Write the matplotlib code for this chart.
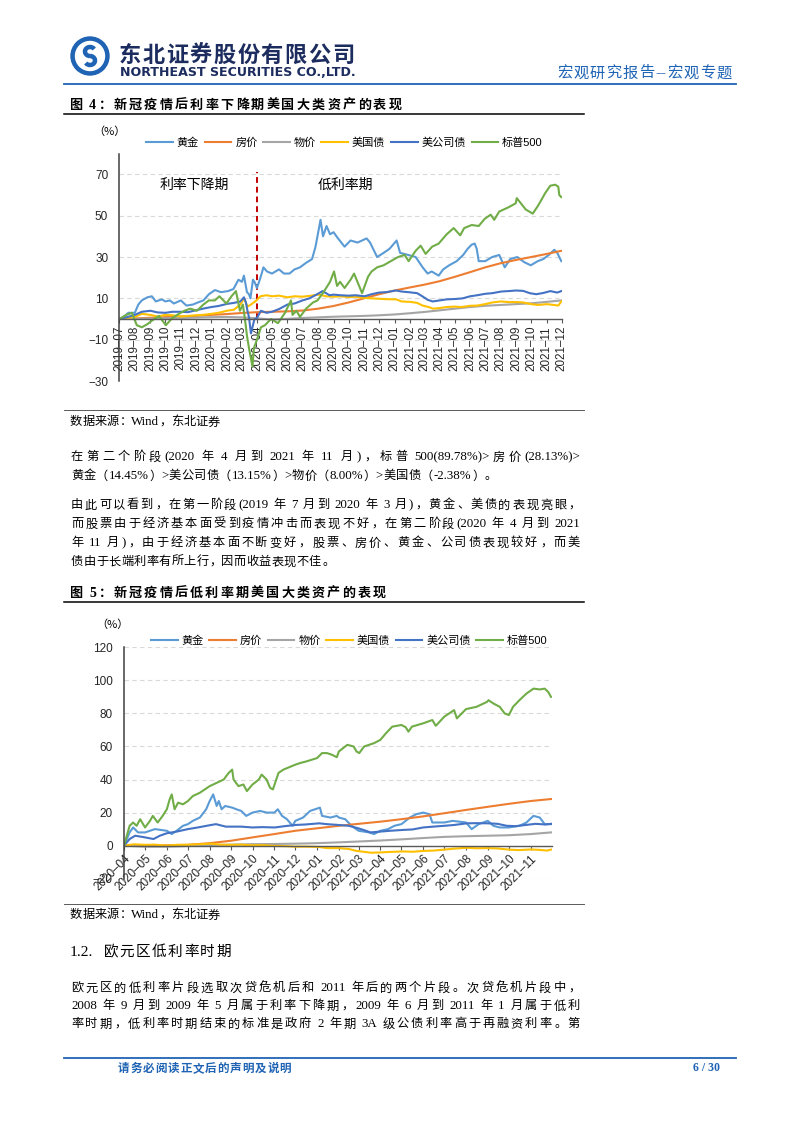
import re
import pandas as pd
import matplotlib
matplotlib.use('Agg')
import matplotlib.pyplot as plt
import matplotlib.dates as mdates
from matplotlib.patches import Circle, Arc

CJK = 'Noto Sans CJK SC'
plt.rcParams['font.family'] = ['Liberation Sans', CJK]

# ---------------- data ----------------
series_names = ['黄金', '房价', '物价', '美国债', '美公司债', '标普500']
series_colors = ['#5B9BD5', '#ED7D31', '#A5A5A5', '#FFC000', '#4472C4', '#70AD47']

# Figure 4: 2019-07 .. 2021-11, cumulative return (%)
gold1_dates = ['2019-07-01', '2019-07-10', '2019-07-19', '2019-08-01', '2019-08-08', '2019-08-15', '2019-08-26',
               '2019-09-04', '2019-09-12', '2019-09-24', '2019-10-01', '2019-10-10', '2019-10-18', '2019-11-01',
               '2019-11-12', '2019-11-25', '2019-12-05', '2019-12-16', '2019-12-27', '2020-01-08', '2020-01-20',
               '2020-02-03', '2020-02-14', '2020-02-24', '2020-03-02', '2020-03-06', '2020-03-12', '2020-03-16',
               '2020-03-19', '2020-03-24', '2020-03-27', '2020-04-01', '2020-04-08', '2020-04-14', '2020-04-21',
               '2020-05-01', '2020-05-15', '2020-05-25', '2020-06-05', '2020-06-15', '2020-06-26', '2020-07-07',
               '2020-07-20', '2020-07-27', '2020-08-06', '2020-08-11', '2020-08-18', '2020-08-25', '2020-09-01',
               '2020-09-10', '2020-09-23', '2020-10-05', '2020-10-19', '2020-11-06', '2020-11-13', '2020-11-27',
               '2020-12-10', '2020-12-22', '2021-01-05', '2021-01-12', '2021-01-28', '2021-02-12', '2021-02-26',
               '2021-03-08', '2021-03-16', '2021-03-30', '2021-04-08', '2021-04-20', '2021-05-05', '2021-05-18',
               '2021-05-27', '2021-06-04', '2021-06-10', '2021-06-14', '2021-06-18', '2021-07-01', '2021-07-15',
               '2021-07-29', '2021-08-09', '2021-08-20', '2021-09-03', '2021-09-17', '2021-09-30', '2021-10-14',
               '2021-10-25', '2021-11-05', '2021-11-16', '2021-11-22', '2021-11-30']
gold1_vals = [0, 1, 3, 3, 7, 9, 10.5, 11, 8.5, 9.5, 8.5, 9, 7.5, 9, 6.5, 7, 8, 9, 12, 14, 13, 13.5, 14.5, 19,
              18, 21, 13, 12, 10, 19, 18, 15, 20, 25, 23, 22, 24, 22, 22, 24, 25, 27, 29, 35, 48, 40, 45, 41,
              42, 39, 35, 38, 37, 39, 37, 30, 32, 34, 38, 32, 31, 30, 25, 22, 23, 21, 24, 26, 28, 31, 34, 36,
              36.5, 34, 28, 28, 30, 31, 25, 29, 30, 27.5, 26, 28, 29, 31, 33.5, 32, 28]

sp1_dates = ['2019-07-01', '2019-07-15', '2019-07-26', '2019-08-05', '2019-08-15', '2019-08-26', '2019-09-03',
             '2019-09-18', '2019-10-02', '2019-10-15', '2019-10-28', '2019-11-08', '2019-11-20', '2019-12-03',
             '2019-12-16', '2019-12-27', '2020-01-08', '2020-01-17', '2020-01-31', '2020-02-10', '2020-02-19',
             '2020-02-27', '2020-03-04', '2020-03-09', '2020-03-12', '2020-03-16', '2020-03-23', '2020-03-26',
             '2020-04-01', '2020-04-09', '2020-04-17', '2020-04-29', '2020-05-13', '2020-05-27', '2020-06-08',
             '2020-06-11', '2020-06-19', '2020-06-26', '2020-07-08', '2020-07-22', '2020-07-31', '2020-08-12',
             '2020-08-25', '2020-09-02', '2020-09-08', '2020-09-14', '2020-09-23', '2020-10-05', '2020-10-12',
             '2020-10-28', '2020-11-09', '2020-11-16', '2020-11-27', '2020-12-10', '2020-12-28', '2021-01-08',
             '2021-01-21', '2021-01-29', '2021-02-12', '2021-02-22', '2021-03-04', '2021-03-17', '2021-03-30',
             '2021-04-15', '2021-04-29', '2021-05-12', '2021-05-20', '2021-06-04', '2021-06-18', '2021-06-30',
             '2021-07-12', '2021-07-19', '2021-07-29', '2021-08-16', '2021-08-31', '2021-09-02', '2021-09-20',
             '2021-10-04', '2021-10-15', '2021-10-29', '2021-11-08', '2021-11-18', '2021-11-24', '2021-11-26',
             '2021-11-30']
sp1_vals = [0, 2, 3, -3, -4, -2.5, -1, 1.5, -3, 0.5, 2.5, 4, 5, 4, 7, 9, 9, 11, 7.5, 11, 13.5, 4, 7, -2, -8,
            -14, -23, -14, -10, -4, -3, 0, -2, 3, 9, 2, 4, 1, 5, 8, 9, 13, 18, 23, 16, 18, 15, 19, 22, 12.5,
            20.5, 23, 25, 26, 28.5, 30, 31, 28, 33, 35.5, 31.5, 35, 36.5, 41, 44, 40.5, 44, 45.5, 45, 48.5,
            50.5, 48, 52, 54, 56, 58.5, 53, 51, 55, 61, 64.5, 65, 64, 60, 59]

# monthly points (month starts 2019-07..2021-11, then 2021-11-30)
house1_vals = [0, 0.3, 0.6, 0.9, 1.2, 1.5, 2, 2.4, 2.9, 3.3, 3.5, 3.7, 4.1, 5, 6.3, 8, 10, 12,
               13.8, 15.3, 16.6, 18.3, 20.4, 22.7, 25, 27, 28.6, 30, 31.5, 33]
cpi1_vals = [0, 0.1, 0.2, 0.4, 0.5, 0.7, 0.9, 1.0, 0.8, 0.3, -0.2, 0.1, 0.5, 0.8, 1.1, 1.3, 1.5, 1.8,
             2.2, 2.8, 3.4, 4.2, 5.0, 5.8, 6.4, 6.8, 7.2, 7.6, 8.3, 9]

tsy1_dates = ['2019-07-01', '2019-07-15', '2019-08-01', '2019-08-15', '2019-09-01', '2019-09-15', '2019-10-01',
              '2019-10-15', '2019-11-01', '2019-11-15', '2019-12-01', '2019-12-15', '2020-01-01', '2020-01-15',
              '2020-02-01', '2020-02-15', '2020-02-28', '2020-03-06', '2020-03-13', '2020-03-20', '2020-03-31',
              '2020-04-08', '2020-04-20', '2020-05-01', '2020-05-15', '2020-06-01', '2020-06-15', '2020-07-01',
              '2020-07-15', '2020-08-03', '2020-08-17', '2020-09-01', '2020-09-15', '2020-10-01', '2020-10-15',
              '2020-11-01', '2020-11-15', '2020-12-01', '2020-12-15', '2021-01-04', '2021-01-15', '2021-02-01',
              '2021-02-15', '2021-02-26', '2021-03-10', '2021-03-19', '2021-04-01', '2021-04-15', '2021-05-01',
              '2021-05-15', '2021-06-01', '2021-06-15', '2021-07-01', '2021-07-15', '2021-08-02', '2021-08-16',
              '2021-09-01', '2021-09-15', '2021-10-01', '2021-10-15', '2021-11-01', '2021-11-15', '2021-11-24',
              '2021-11-30']
tsy1_vals = [0, 0.5, 1, 2.5, 2, 1.2, 2, 1.8, 1.2, 1.5, 1.8, 2, 2.5, 3, 4, 4.5, 7, 10, 6, 7, 9, 11, 11.5, 11,
             11.3, 10.5, 11, 10.8, 11.2, 11.8, 11, 10.8, 11, 10.6, 10.8, 10.2, 10, 9.8, 9.6, 9.5, 8.5, 8.3,
             7.8, 6.5, 5.8, 5, 5.3, 5.8, 6, 5.8, 6.4, 6.5, 7.2, 8, 8.5, 8.2, 8.2, 8, 7.2, 6.8, 7.2, 6.8, 6.5, 8.5]

corp1_dates = ['2019-07-01', '2019-07-15', '2019-08-01', '2019-08-15', '2019-09-01', '2019-09-15', '2019-10-01',
               '2019-10-15', '2019-11-01', '2019-11-15', '2019-12-01', '2019-12-15', '2020-01-01', '2020-01-15',
               '2020-02-01', '2020-02-15', '2020-02-28', '2020-03-06', '2020-03-10', '2020-03-13', '2020-03-16',
               '2020-03-20', '2020-03-24', '2020-03-27', '2020-04-01', '2020-04-09', '2020-04-20', '2020-05-01',
               '2020-05-15', '2020-06-01', '2020-06-15', '2020-07-01', '2020-07-15', '2020-08-03', '2020-08-10',
               '2020-08-24', '2020-09-01', '2020-09-15', '2020-10-01', '2020-10-15', '2020-11-02', '2020-11-16',
               '2020-12-01', '2020-12-15', '2021-01-04', '2021-01-15', '2021-02-01', '2021-02-15', '2021-02-26',
               '2021-03-08', '2021-03-18', '2021-04-01', '2021-04-15', '2021-05-03', '2021-05-17', '2021-06-01',
               '2021-06-15', '2021-07-01', '2021-07-15', '2021-08-02', '2021-08-16', '2021-09-01', '2021-09-15',
               '2021-09-28', '2021-10-11', '2021-10-25', '2021-11-08', '2021-11-22', '2021-11-30']
corp1_vals = [0, 0.8, 2, 3.5, 4, 3.2, 3, 3.5, 3.5, 3.3, 4.2, 5, 5.8, 6.3, 7.3, 7.8, 8.5, 10.5, 8, 4, 1, -7, -3,
              0, 0.5, 4, 3, 3.5, 4.8, 7, 7.5, 9, 10, 12.5, 13.5, 11.5, 11.8, 11.5, 11.3, 11.5, 11, 12, 12.8,
              13, 13.8, 13.3, 12.9, 12.5, 10.9, 9.3, 8.5, 9, 9.5, 9.7, 10, 11, 11.5, 12.2, 12.5, 13.3, 13.5,
              13.8, 13.6, 12.5, 12, 12.6, 13.5, 12.8, 13.5]

# Figure 5: 2020-04 .. 2021-11, cumulative return (%)
gold2_dates = ['2020-04-01', '2020-04-09', '2020-04-14', '2020-04-21', '2020-05-01', '2020-05-08', '2020-05-15',
               '2020-06-01', '2020-06-08', '2020-06-15', '2020-06-24', '2020-07-01', '2020-07-08', '2020-07-18',
               '2020-07-27', '2020-08-01', '2020-08-06', '2020-08-11', '2020-08-14', '2020-08-18', '2020-08-23',
               '2020-09-02', '2020-09-08', '2020-09-15', '2020-09-22', '2020-10-01', '2020-10-12', '2020-10-21',
               '2020-11-01', '2020-11-06', '2020-11-12', '2020-11-19', '2020-11-27', '2020-12-01', '2020-12-12',
               '2020-12-22', '2021-01-05', '2021-01-08', '2021-01-20', '2021-01-29', '2021-02-01', '2021-02-10',
               '2021-02-19', '2021-03-01', '2021-03-16', '2021-03-23', '2021-04-01', '2021-04-12', '2021-04-21',
               '2021-05-01', '2021-05-13', '2021-05-22', '2021-06-01', '2021-06-10', '2021-06-14', '2021-07-01',
               '2021-07-13', '2021-08-01', '2021-08-09', '2021-08-19', '2021-09-01', '2021-09-09', '2021-09-18',
               '2021-10-01', '2021-10-16', '2021-10-26', '2021-11-05', '2021-11-14', '2021-11-21', '2021-11-30']
gold2_vals = [0, 8, 11, 8, 8, 9, 10, 9, 7, 9, 12, 13, 15, 17, 22, 27, 31, 24, 27, 22, 24, 23, 22, 21, 18, 20,
              21, 20, 20, 22, 18, 16, 12, 15, 17, 21, 23, 18, 17, 18, 17, 16, 12, 9, 8, 7, 9, 10, 12, 13, 17,
              19, 20, 19, 14, 14, 15, 14, 10, 13, 15, 12, 11, 11, 12, 14, 18, 17, 13, 13]

sp2_dates = ['2020-04-01', '2020-04-09', '2020-04-14', '2020-04-19', '2020-04-24', '2020-05-01', '2020-05-08',
             '2020-05-12', '2020-05-19', '2020-05-26', '2020-06-01', '2020-06-05', '2020-06-08', '2020-06-12',
             '2020-06-17', '2020-06-24', '2020-07-01', '2020-07-08', '2020-07-18', '2020-08-01', '2020-08-11',
             '2020-08-21', '2020-08-28', '2020-09-02', '2020-09-04', '2020-09-11', '2020-09-18', '2020-09-23',
             '2020-10-01', '2020-10-10', '2020-10-14', '2020-10-21', '2020-10-26', '2020-10-30', '2020-11-07',
             '2020-11-14', '2020-12-01', '2020-12-08', '2020-12-17', '2021-01-01', '2021-01-08', '2021-01-15',
             '2021-01-22', '2021-01-29', '2021-02-01', '2021-02-13', '2021-02-22', '2021-02-26', '2021-03-02',
             '2021-03-09', '2021-03-16', '2021-03-23', '2021-04-01', '2021-04-09', '2021-04-18', '2021-05-01',
             '2021-05-07', '2021-05-11', '2021-05-16', '2021-06-01', '2021-06-14', '2021-06-19', '2021-07-01',
             '2021-07-08', '2021-07-15', '2021-07-19', '2021-08-01', '2021-08-16', '2021-08-31', '2021-09-02',
             '2021-09-09', '2021-09-18', '2021-09-25', '2021-10-01', '2021-10-07', '2021-10-16', '2021-10-26',
             '2021-11-05', '2021-11-14', '2021-11-21', '2021-11-26', '2021-11-30']
sp2_vals = [0, 12, 14, 12, 16, 11, 15, 18, 14, 18, 22, 28, 31, 22, 26, 25, 27, 30, 32, 36, 38, 40, 44, 46, 40,
            36, 37, 33, 37, 40, 43, 40, 35, 34, 44, 46, 49, 50, 51, 53, 56, 56, 55, 53.5, 57, 61, 60, 57, 56,
            60, 61, 62, 64, 68, 72, 73, 71.7, 69, 72, 74, 76, 72.5, 78, 80, 82, 77, 82.6, 84, 87, 88, 86, 84,
            80, 79, 84, 88, 92, 95, 94.5, 95, 93, 90]

# monthly points (month starts 2020-04..2021-11, then 2021-11-30)
house2_vals = [0, 0, 0.2, 0.5, 1.5, 3, 5, 7, 9, 10.5, 12, 13.2, 14.5, 16, 17.7, 19.6, 21.6, 23.5, 25.3, 27, 28.2]
cpi2_vals = [0, -0.6, -0.6, -0.2, 0.3, 0.6, 0.9, 1.0, 1.2, 1.5, 2.0, 2.5, 3.1, 3.8, 4.6, 5.3, 5.7, 6.0, 6.3,
             7.0, 8.0]

tsy2_dates = ['2020-04-01', '2020-04-15', '2020-05-01', '2020-05-15', '2020-06-01', '2020-06-15', '2020-07-01',
              '2020-07-15', '2020-08-03', '2020-08-17', '2020-09-01', '2020-09-15', '2020-10-01', '2020-10-15',
              '2020-11-02', '2020-11-16', '2020-12-01', '2020-12-15', '2021-01-04', '2021-01-15', '2021-02-01',
              '2021-02-15', '2021-02-26', '2021-03-10', '2021-03-19', '2021-04-01', '2021-04-15', '2021-05-03',
              '2021-05-17', '2021-06-01', '2021-06-15', '2021-07-01', '2021-07-15', '2021-08-02', '2021-08-16',
              '2021-09-01', '2021-09-15', '2021-10-01', '2021-10-15', '2021-11-01', '2021-11-15', '2021-11-24',
              '2021-11-30']
tsy2_vals = [0, 0.8, 0.5, 0.6, 0, 0.5, 0.5, 0.8, 1.2, 0.6, 0.5, 0.6, 0.2, 0.3, -0.2, -0.3, -0.6, -0.6, -0.8,
             -1.5, -1.5, -2, -3.2, -3.8, -4.3, -4.1, -3.8, -3.5, -3.7, -3.2, -3.0, -2.4, -1.8, -1.3, -1.6, -1.5,
             -1.7, -2.4, -2.7, -2.3, -2.6, -3.0, -2.4]

corp2_dates = ['2020-04-01', '2020-04-09', '2020-04-17', '2020-05-01', '2020-05-13', '2020-05-22', '2020-06-01',
               '2020-06-15', '2020-07-01', '2020-07-15', '2020-08-03', '2020-08-10', '2020-08-24', '2020-09-01',
               '2020-09-15', '2020-10-01', '2020-10-15', '2020-11-02', '2020-11-16', '2020-12-01', '2020-12-15',
               '2021-01-04', '2021-01-15', '2021-02-01', '2021-02-15', '2021-02-26', '2021-03-08', '2021-03-18',
               '2021-04-01', '2021-04-15', '2021-05-03', '2021-05-17', '2021-06-01', '2021-06-15', '2021-07-01',
               '2021-07-15', '2021-08-02', '2021-08-16', '2021-09-01', '2021-09-15', '2021-09-28', '2021-10-11',
               '2021-10-25', '2021-11-08', '2021-11-22', '2021-11-30']
corp2_vals = [0, 4, 6, 5, 4, 6, 7.5, 8.5, 10, 11, 12.5, 13, 11.5, 11.5, 11.5, 11, 11.2, 11, 11.8, 12.5, 12.8,
              13.5, 13, 12.5, 12, 10.8, 9.5, 8, 8.5, 9, 9.5, 9.8, 11, 11.5, 12, 12.5, 13.5, 13.6, 13.5, 13.2,
              12, 11.8, 12.5, 13.2, 12.8, 13.2]

period_labels = ['利率下降期', '低利率期']

# ---------------- page ----------------
W, H = 802, 1133
NAVY = '#1C2C5E'
BLUE = '#1F63B4'
BODY = 8.8

fig = plt.figure(figsize=(W / 100, H / 100), dpi=100)
page = fig.add_axes([0, 0, 1, 1])
page.set_xlim(0, W)
page.set_ylim(H, 0)
page.axis('off')
renderer = fig.canvas.get_renderer()


def rect(l, t, r, b):
    return [l / W, 1 - b / H, (r - l) / W, (b - t) / H]


def put(s, x0, y, size, x1=None, gap=0.0, color='black', weight='normal', latin='Liberation Serif'):
    # lay out a mixed CJK / latin line, optionally justified between x0 and x1
    em = size * 100 / 72
    items = []
    for t in re.findall(r' +|[!-~]+|.', s):
        if t.startswith(' '):
            items.append((None, 0.3 * em * len(t), None))
        elif t.isascii():
            txt = page.text(0, 0, t, fontsize=size * 1.06, family=[latin, CJK], color=color,
                            weight=weight, va='baseline', ha='left')
            items.append((txt, txt.get_window_extent(renderer).width, 'l'))
        else:
            txt = page.text(0, 0, t, fontsize=size, family=CJK, color=color,
                            weight=weight, va='baseline', ha='center')
            mode = 'c'
            if t in '，。、：；）':
                txt.set_ha('left')
                mode = 'pl'
            elif t in '（':
                txt.set_ha('right')
                mode = 'pr'
            items.append((txt, em, mode))
    n_gaps = sum(1 for txt, _, _ in items if txt is not None) - 1
    if x1 is not None:
        gap = (x1 - x0 - sum(w for _, w, _ in items)) / max(n_gaps, 1)
    x = x0
    base = y + 0.36 * em
    for i, (txt, w, mode) in enumerate(items):
        if txt is None:
            x += w
            continue
        if mode == 'c':
            txt.set_position((x + w / 2, base))
        elif mode == 'pl':
            txt.set_position((x + 0.05 * em, base))
        elif mode == 'pr':
            txt.set_position((x + w - 0.05 * em, base))
        else:
            txt.set_position((x, base))
        x += w + gap


# header: logo, company name, report type
page.add_patch(Circle((90, 56), 19, color=BLUE))
page.add_patch(Circle((90, 56), 14.5, color='white'))
page.add_patch(Arc((90, 51.5), 10, 9, theta1=90, theta2=330, lw=3.2, color=BLUE))
page.add_patch(Arc((90, 60.5), 10, 9, theta1=270, theta2=150, lw=3.2, color=BLUE))
put('东北证券股份有限公司', 119, 54, 16, x1=354, color=NAVY, weight='bold')
eng = page.text(120, 72.5, 'NORTHEAST SECURITIES CO.,LTD.', fontsize=8, weight='bold',
                family='DejaVu Sans', color=NAVY, va='center')
eng.set_fontsize(8 * 237 / eng.get_window_extent(renderer).width)
put('宏观研究报告--宏观专题', 557, 72, 11, x1=732, color=BLUE)
page.plot([64, 736], [83.5, 83.5], color=BLUE, lw=1.3)

# figure titles and rules
put('图 4：新冠疫情后利率下降期美国大类资产的表现', 70, 104, 9.4, gap=2.2, weight='bold')
page.plot([64, 584], [113.5, 113.5], color='black', lw=1.1)
page.plot([64, 584], [410, 410], color='#595959', lw=0.7)
put('数据来源：Wind，东北证券', 70, 421, BODY)

para_lines = [
    ('在第二个阶段(2020 年 4 月到 2021 年 11 月)，标普 500(89.78%)>房价(28.13%)>', 456, True),
    ('黄金（14.45%）>美公司债（13.15%）>物价（8.00%）>美国债（-2.38%）。', 475, False),
    ('由此可以看到，在第一阶段(2019 年 7 月到 2020 年 3 月)，黄金、美债的表现亮眼，', 504, True),
    ('而股票由于经济基本面受到疫情冲击而表现不好，在第二阶段(2020 年 4 月到 2021', 523, True),
    ('年 11 月)，由于经济基本面不断变好，股票、房价、黄金、公司债表现较好，而美', 542, True),
    ('债由于长端利率有所上行，因而收益表现不佳。', 561, False),
]
for s, y, just in para_lines:
    put(s, 71, y, BODY, x1=580 if just else None, gap=0.3)

put('图 5：新冠疫情后低利率期美国大类资产的表现', 70, 592, 9.4, gap=2.2, weight='bold')
page.plot([64, 584], [602, 602], color='black', lw=1.1)
page.plot([64, 584], [904, 904], color='#595959', lw=0.7)
put('数据来源：Wind，东北证券', 70, 914, BODY)

put('1.2.  欧元区低利率时期', 70, 951, 10.5, gap=1.5)
sec_lines = [
    ('欧元区的低利率片段选取次贷危机后和 2011 年后的两个片段。次贷危机片段中，', 987),
    ('2008 年 9 月到 2009 年 5 月属于利率下降期，2009 年 6 月到 2011 年 1 月属于低利', 1005),
    ('率时期，低利率时期结束的标准是政府 2 年期 3A 级公债利率高于再融资利率。第', 1023),
]
for s, y in sec_lines:
    put(s, 71, y, BODY, x1=580)

page.plot([64, 736], [1058, 1058], color=BLUE, lw=1.3)
put('请务必阅读正文后的声明及说明', 118, 1068, 8.3, gap=0.9, color=BLUE, weight='bold')
page.text(720, 1068, '6 / 30', ha='right', va='center', fontsize=8.5, weight='bold',
          family='Liberation Serif', color=BLUE)


# ---------------- charts ----------------
def draw_series(ax, data):
    for (dates, vals), name, color in zip(data, series_names, series_colors):
        ax.plot(pd.to_datetime(dates), vals, color=color, lw=1.5, label=name)


def style(ax, ymin, ymax, step):
    ax.set_ylim(ymin, ymax)
    ax.set_yticks(range(ymin, ymax + 1, step))
    ax.grid(axis='y', color='#D9D9D9', linestyle=(0, (4, 3)), linewidth=0.8)
    ax.grid(axis='x', visible=False)
    ax.set_axisbelow(True)
    for sp in ['top', 'right']:
        ax.spines[sp].set_visible(False)
    ax.spines['left'].set_color('#404040')
    ax.spines['left'].set_linewidth(1.1)
    ax.spines['bottom'].set_position(('data', 0))
    ax.spines['bottom'].set_color('#595959')
    ax.spines['bottom'].set_linewidth(1.0)
    ax.tick_params(axis='y', labelsize=8.5, length=0, pad=8, labelcolor='#262626')
    ax.tick_params(axis='x', labelsize=8.4, length=3, color='#595959', pad=2, labelcolor='#262626')
    ax.patch.set_alpha(0)


def legend(ax, cx, cy):
    ax.legend(loc='center', bbox_to_anchor=(cx / W, 1 - cy / H), bbox_transform=fig.transFigure,
              ncol=6, frameon=False, prop={'family': ['Liberation Sans', CJK], 'size': 8},
              handlelength=2.4, handletextpad=0.35, columnspacing=0.5)


# Figure 4
months1 = pd.date_range('2019-07-01', '2021-11-01', freq='MS').append(pd.DatetimeIndex(['2021-11-30']))
ax1 = fig.add_axes(rect(119.3, 153.7, 561.8, 381))
draw_series(ax1, [(gold1_dates, gold1_vals), (months1, house1_vals), (months1, cpi1_vals),
                  (tsy1_dates, tsy1_vals), (corp1_dates, corp1_vals), (sp1_dates, sp1_vals)])
style(ax1, -30, 80, 20)
ax1.set_yticks(range(-30, 71, 20))
ax1.set_xlim(pd.Timestamp('2019-07-01'), pd.Timestamp('2021-12-01'))
ax1.xaxis.set_major_locator(mdates.MonthLocator())
ax1.xaxis.set_major_formatter(mdates.DateFormatter('%Y–%m'))
plt.setp(ax1.get_xticklabels(), rotation=90, ha='center', va='top')
ax1.vlines(pd.Timestamp('2020-04-01'), 0, 71, colors='#C00000', linestyles=(0, (3, 2)), linewidth=1.4, zorder=1.5)
ax1.text(pd.Timestamp('2019-11-27'), 65, period_labels[0], family=CJK, fontsize=10, ha='center', va='center')
ax1.text(pd.Timestamp('2020-09-25'), 65, period_labels[1], family=CJK, fontsize=10, ha='center', va='center')
legend(ax1, 344.5, 142.7)
page.text(109, 131.5, '（%）', family=CJK, fontsize=8, ha='center', va='center')

# Figure 5
months2 = pd.date_range('2020-04-01', '2021-11-01', freq='MS').append(pd.DatetimeIndex(['2021-11-30']))
ax2 = fig.add_axes(rect(124, 647.3, 551.7, 878.7))
draw_series(ax2, [(gold2_dates, gold2_vals), (months2, house2_vals), (months2, cpi2_vals),
                  (tsy2_dates, tsy2_vals), (corp2_dates, corp2_vals), (sp2_dates, sp2_vals)])
style(ax2, -20, 120, 20)
ax2.set_xlim(pd.Timestamp('2020-04-01'), pd.Timestamp('2021-12-01'))
ax2.set_xticks(pd.date_range('2020-04-01', '2021-11-01', freq='MS'))
ax2.xaxis.set_major_formatter(mdates.DateFormatter('%Y–%m'))
plt.setp(ax2.get_xticklabels(), rotation=45, ha='right', va='top', rotation_mode='anchor')
legend(ax2, 349.2, 640.7)
page.text(112, 625, '（%）', family=CJK, fontsize=8, ha='center', va='center')

fig.savefig('out.png', dpi=100)
